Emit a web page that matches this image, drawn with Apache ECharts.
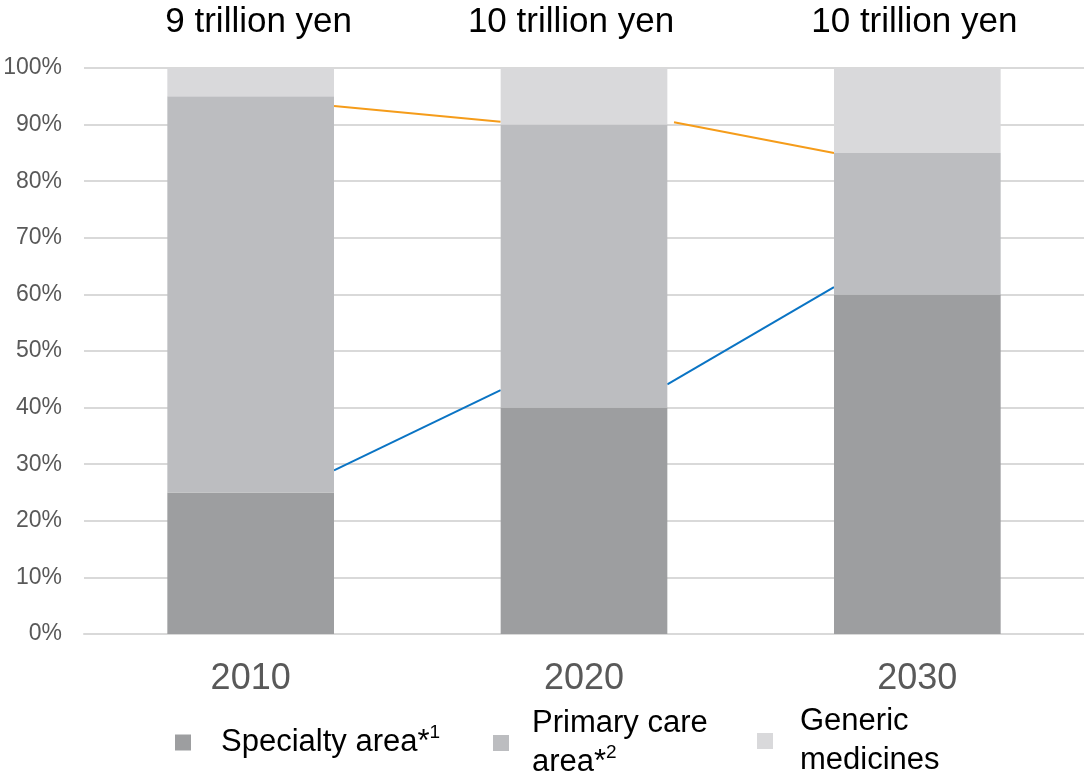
<!DOCTYPE html>
<html>
<head>
<meta charset="utf-8">
<title>Pharmaceutical market composition</title>
<script src="https://cdn.jsdelivr.net/npm/echarts@6/dist/echarts.min.js"></script>
<style>
  html, body { margin: 0; padding: 0; background: #ffffff; }
  #chart { width: 1084px; height: 779px; }
</style>
</head>
<body>
<div id="chart"></div>
<script>
// Market share by area (%), stacked to 100% per year
const years = ['2010', '2020', '2030'];
const specialty = [25, 40, 60];
const primaryCare = [70, 50, 25];
const generic = [5, 10, 15];

// Total market size shown above each column
const marketSize = ['9 trillion yen', '10 trillion yen', '10 trillion yen'];

// Trend segments between columns: [category position, share %]
const specialtyTrend = [
  [[0.25, 28.9], [0.75, 43.1]],
  [[1.25, 44.1], [1.75, 61.3]]
];
const primaryTrend = [
  [[0.25, 93.3], [0.75, 90.5]],
  [[1.27, 90.4], [1.75, 85.0]]
];

const yTicks = { min: 0, max: 100, step: 10 };

const FONT = "'Liberation Sans', Arial, sans-serif";
const colors = {
  specialty: '#9d9ea0',
  primary: '#bcbdc0',
  generic: '#d9d9db',
  specialtyTrend: '#0a74c4',
  primaryTrend: '#f59c1a'
};

const legendText = {
  'Specialty area': '{t|Specialty area*}{s|1}',
  'Primary care area': '{t|Primary care}\n{t|area*}{s|2}',
  'Generic medicines': '{t|Generic}\n{t|medicines}'
};

function legendFor(name, left, top, gap) {
  return {
    data: [name],
    left: left,
    top: top,
    padding: 0,
    icon: 'rect',
    itemWidth: 16,
    itemHeight: 16,
    selectedMode: false,
    formatter: (n) => legendText[n],
    textStyle: {
      fontFamily: FONT,
      color: '#000000',
      rich: {
        t: { fontSize: 31, lineHeight: 39, color: '#000000', fontFamily: FONT, padding: [0, 0, 0, gap] },
        s: { fontSize: 19, lineHeight: 22, verticalAlign: 'top', color: '#000000', fontFamily: FONT }
      }
    }
  };
}

function trendSeries(segments, color) {
  return segments.map((seg) => ({
    type: 'line',
    xAxisIndex: 1,
    data: seg,
    symbol: 'none',
    silent: true,
    z: 1,
    lineStyle: { color: color, width: 2 }
  }));
}

const titleShift = [8, -13, -3];

const chart = echarts.init(document.getElementById('chart'), null, { renderer: 'canvas' });

chart.setOption({
  animation: false,
  backgroundColor: '#ffffff',
  grid: { left: 84, right: 0, top: 68, bottom: 145, containLabel: false },
  legend: [
    legendFor('Specialty area', 175, 723, 25),
    legendFor('Primary care area', 493, 708, 18),
    legendFor('Generic medicines', 757, 706, 22)
  ],
  xAxis: [
    {
      type: 'category',
      data: years,
      axisTick: { show: false },
      axisLine: { show: true, lineStyle: { color: '#d9d9d9', width: 2 } },
      axisLabel: { fontSize: 36, color: '#595959', fontFamily: FONT, margin: 27 }
    },
    {
      type: 'value',
      min: -0.5,
      max: 2.5,
      show: false
    }
  ],
  yAxis: {
    type: 'value',
    min: yTicks.min,
    max: yTicks.max,
    interval: yTicks.step,
    axisLine: { show: false },
    axisTick: { show: false },
    axisLabel: { formatter: '{value}%', fontSize: 23, color: '#595959', fontFamily: FONT, margin: 22 },
    splitLine: { lineStyle: { color: '#d9d9d9', width: 2 } }
  },
  series: [
    {
      name: 'Specialty area',
      type: 'bar',
      stack: 'share',
      barWidth: '50%',
      z: 2,
      itemStyle: { color: colors.specialty },
      data: specialty
    },
    {
      name: 'Primary care area',
      type: 'bar',
      stack: 'share',
      z: 2,
      itemStyle: { color: colors.primary },
      data: primaryCare
    },
    {
      name: 'Generic medicines',
      type: 'bar',
      stack: 'share',
      z: 2,
      itemStyle: { color: colors.generic },
      data: generic.map((v, i) => ({
        value: v,
        label: { offset: [titleShift[i], 0] }
      })),
      label: {
        show: true,
        position: 'top',
        distance: 28,
        fontSize: 35,
        fontFamily: FONT,
        color: '#000000',
        formatter: (p) => marketSize[p.dataIndex]
      }
    },
    ...trendSeries(specialtyTrend, colors.specialtyTrend),
    ...trendSeries(primaryTrend, colors.primaryTrend)
  ]
});
</script>
</body>
</html>
